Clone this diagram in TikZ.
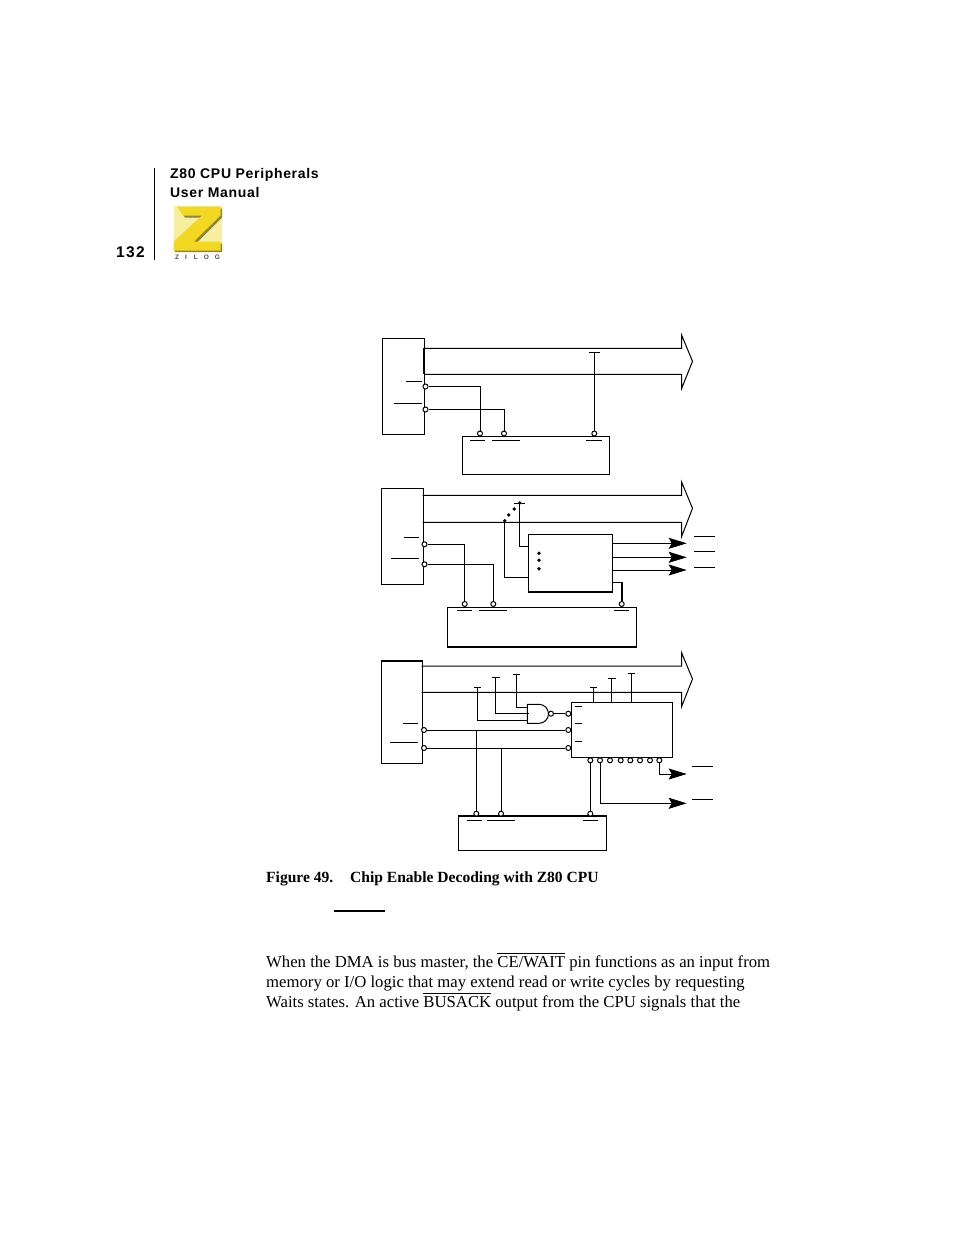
\documentclass[tikz,border=0pt]{standalone}
\usepackage{fontspec}
\setmainfont{Liberation Serif}
\newfontfamily\headfont[LetterSpace=4.8]{Liberation Sans}
\newfontfamily\pagefont[LetterSpace=9]{Liberation Sans}
\usepackage{tikz}
\usetikzlibrary{positioning}
\usetikzlibrary{arrows.meta}
\newcommand{\overbar}[1]{$\overline{\hbox{\rule{0pt}{12.4pt}#1}}$}
\newcommand{\zbus}[3]{\draw[wire] (#1,#2) -- (681.5,#2) -- (681.5,#2-13.5) -- (692.5,#2+13) -- (681.5,#3+14.5) -- (681.5,#3) -- (#1,#3);}
\tikzset{
	wire/.style={line width=1pt, line join=miter},
	chip/.style={draw, line width=1pt, inner sep=0pt, anchor=north west},
	pin/.style={circle, draw, fill=white, line width=1pt, inner sep=0pt, minimum size=5pt},
	signalbar/.style={line width=0.8pt},
	fatwire/.style={line width=1.9pt},
	outarrow/.style={wire, -{Stealth[length=18pt,width=11pt,inset=3pt]}},
	headtext/.style={inner sep=0pt, anchor=base west, font=\headfont\bfseries\fontsize{14}{16}\selectfont},
	bodytext/.style={inner sep=0pt, anchor=base west, font=\fontsize{16.7}{20}\selectfont},
	captiontext/.style={inner sep=0pt, anchor=base west, font=\fontsize{15.55}{18}\selectfont\bfseries}
}
\definecolor{zpale}{HTML}{F7EFA0}
\definecolor{zgold}{HTML}{F2D820}
\definecolor{zshade}{HTML}{8C8440}

\begin{document}
\begin{tikzpicture}[x=1pt, yscale=-1, y=1pt]
	\useasboundingbox (0,0) rectangle (954,1235);

	% page header
	\draw[line width=1pt] (154.5,168) -- (154.5,260);
	\node[headtext] (title) at (170,178) {Z80 CPU Peripherals};
	\node[headtext] (manual) at (170,197) {User Manual};
	\node[inner sep=0pt, anchor=base west, font=\pagefont\bfseries\fontsize{15.5}{18}\selectfont] (pageno) at (116,257) {132};
	\fill[zpale] (173.5,206) rectangle (221.5,251.5);
	\fill[zshade] (179,208.5) -- (222,208.5) -- (222,217.5) -- (196,243.5) -- (222,243.5) -- (222,252) -- (175,252) -- (175,243.5) -- (204,217.5) -- (185,217.5) -- cycle;
	\fill[zgold] (177,206.5) -- (220.5,206.5) -- (220.5,215.5) -- (194,241.5) -- (220.5,241.5) -- (220.5,250.5) -- (173.5,250.5) -- (173.5,241.5) -- (202,215.5) -- (183,215.5) -- cycle;
	\node[inner sep=0pt, text=black!70, font=\fontspec{Liberation Sans}\bfseries\fontsize{6.5}{7}\selectfont] (zilog) at (197.5,257) {Z\hspace{6pt}I\hspace{7pt}L\hspace{6pt}O\hspace{6pt}G};

	% first circuit
	\node[chip, minimum width=42pt, minimum height=96pt] (cpuA) at (382.3,338.3) {};
	\node[chip, minimum width=147pt, minimum height=38pt] (memA) at (462.3,436.3) {};
	\zbus{424}{348.3}{374.3}
	\draw[fatwire] (424,348.3) -- (424,374.3);
	\node[pin] (cpuAa) at (425.5,386.5) {};
	\node[pin] (cpuAb) at (425.5,409.5) {};
	\node[pin] (memAa) at (480,433.5) {};
	\node[pin] (memAb) at (504,433.5) {};
	\node[pin] (memAc) at (594.3,433.5) {};
	\coordinate (teeA) at (594.3,352.7);
	\draw[wire] (cpuAa) -| (memAa);
	\draw[wire] (cpuAb) -| (memAb);
	\draw[wire] (teeA) -- (memAc);
	\draw[signalbar] (589.3,352.7) -- (600,352.7);
	\draw[signalbar] (406,381.3) -- (422,381.3);
	\draw[signalbar] (394,403) -- (422,403);
	\draw[signalbar] (470,440) -- (485,440);
	\draw[signalbar] (492,440) -- (520,440);
	\draw[signalbar] (586,440) -- (602,440);

	% second circuit
	\node[chip, minimum width=41.4pt, minimum height=96pt] (cpuB) at (381.3,488.3) {};
	\node[chip, minimum width=84pt, minimum height=57pt] (decB) at (528.3,534.3) {};
	\node[chip, minimum width=188.8pt, minimum height=38.4pt] (memB) at (447.3,607.3) {};
	\draw[fatwire] (decB.south west) -- (decB.south east);
	\draw[fatwire] (memB.south west) -- (memB.south east);
	\zbus{422.7}{495.3}{522.3}
	\node[pin] (cpuBa) at (424.5,544.3) {};
	\node[pin] (cpuBb) at (424.5,564.3) {};
	\coordinate (decBc) at (612.3,582);
	\coordinate (bendB) at (621.7,582);
	\draw[wire] (decBc) -- (bendB);
	\node[pin] (memBa) at (464.7,604) {};
	\node[pin] (memBb) at (493.3,604) {};
	\node[pin] (memBc) at (621.7,604) {};
	\draw[fatwire] (bendB) -- (memBc);
	\draw[wire] (cpuBa) -| (memBa);
	\draw[wire] (cpuBb) -| (memBb);
	\coordinate (decBa) at (528.3,546.7);
	\coordinate (decBb) at (528.3,577.3);
	\coordinate (teeBa) at (519.7,503);
	\coordinate (teeBb) at (504.7,520.7);
	\draw[wire] (decBa) -| (teeBa);
	\draw[wire] (decBb) -| (teeBb);
	\draw[signalbar] (514,503) -- (525,503);
	\fill (teeBa) circle (1.9pt);
	\fill (teeBb) circle (1.9pt);
	\fill (508.7,515) circle (1.9pt);
	\fill (514.3,509) circle (1.9pt);
	\fill (539,553.3) circle (1.9pt);
	\fill (539,560.3) circle (1.9pt);
	\fill (539,568.7) circle (1.9pt);
	\foreach \outy in {543.3,557.3,570}
	{
		\draw[outarrow] (612.3,\outy) -- (686.7,\outy);
	}
	\foreach \bary in {536.7,551,567}
	{
		\draw[signalbar] (694,\bary) -- (715,\bary);
	}
	\draw[signalbar] (404,537.3) -- (418.7,537.3);
	\draw[signalbar] (391,558.3) -- (419,558.3);
	\draw[signalbar] (457,610.7) -- (472,610.7);
	\draw[signalbar] (479,610.7) -- (507,610.7);
	\draw[signalbar] (614.3,610.7) -- (629,610.7);

	% third circuit
	\node[chip, minimum width=40.4pt, minimum height=102.6pt] (cpuC) at (381.3,660.7) {};
	\node[chip, minimum width=100.9pt, minimum height=55pt] (decC) at (571.3,702.3) {};
	\node[chip, minimum width=148pt, minimum height=34pt] (memC) at (458.3,816.3) {};
	\draw[fatwire] (cpuC.north west) -- (cpuC.north east);
	\draw[fatwire] (memC.north west) -- (memC.north east);
	\zbus{421.7}{666}{692.3}
	\node[pin] (cpuCa) at (424,730) {};
	\node[pin] (cpuCb) at (424,748) {};
	\node[pin] (decCa) at (568.3,713.7) {};
	\node[pin] (decCb) at (568.3,730) {};
	\node[pin] (decCc) at (568.3,748) {};
	\node[pin] (memCa) at (476.3,813.7) {};
	\node[pin] (memCb) at (501,813.7) {};
	\node[pin] (memCc) at (590.3,813.7) {};
	\foreach \pinx [count=\pinnum] in {590.3,600,610,620.7,630.3,640,650,659.3}
	{
		\node[pin] (decCo\pinnum) at (\pinx,760.3) {};
	}
	\draw[wire] (cpuCa) -- (decCb);
	\draw[wire] (cpuCb) -- (decCc);
	\coordinate (busCa) at (476.3,730);
	\coordinate (busCb) at (501,748);
	\draw[wire] (busCa) -- (memCa);
	\draw[wire] (busCb) -- (memCb);
	\draw[wire] (decCo1) -- (memCc);
	\coordinate (outCa) at (686.7,774);
	\coordinate (outCb) at (686.7,803.3);
	\draw[outarrow] (decCo8) |- (outCa);
	\draw[outarrow] (decCo2) |- (outCb);
	% nand gate
	\draw[wire] (527.3,704.3) -- (539,704.3) arc (-90:90:9.5) -- (527.3,723.3) -- cycle;
	\node[pin] (nandC) at (551,713.7) {};
	\draw[wire] (nandC) -- (decCa);
	\coordinate (teeCa) at (516.7,674.3);
	\coordinate (teeCb) at (495.3,677.3);
	\coordinate (teeCc) at (477.3,687.3);
	\draw[wire] (teeCa) |- (527.3,707.3);
	\draw[wire] (teeCb) |- (528.7,713.3);
	\draw[wire] (teeCc) |- (527.3,720.3);
	\draw[signalbar] (513,674.3) -- (520,674.3);
	\draw[signalbar] (492,677.3) -- (499.7,677.3);
	\draw[signalbar] (474.3,687.3) -- (480.7,687.3);
	\coordinate (teeCd) at (593.7,687.3);
	\coordinate (teeCe) at (611.7,678.7);
	\coordinate (teeCf) at (631.3,673.7);
	\draw[wire] (teeCd) -- (593.7,702.3);
	\draw[wire] (teeCe) -- (611.7,702.3);
	\draw[wire] (teeCf) -- (631.3,702.3);
	\draw[signalbar] (590.3,687.3) -- (597,687.3);
	\draw[signalbar] (608,678.7) -- (615.5,678.7);
	\draw[signalbar] (628,673.7) -- (635,673.7);
	\draw[signalbar] (403.3,723) -- (418.3,723);
	\draw[signalbar] (390,742.3) -- (418.3,742.3);
	\draw[signalbar] (575,706) -- (582,706);
	\draw[signalbar] (575,723) -- (582,723);
	\draw[signalbar] (575,741) -- (582,741);
	\draw[signalbar] (692,766.7) -- (712.7,766.7);
	\draw[signalbar] (692,799.3) -- (712.7,799.3);
	\draw[signalbar] (466.7,820) -- (482,820);
	\draw[signalbar] (487.3,820) -- (515,820);
	\draw[signalbar] (583,820) -- (598,820);

	% caption and text
	\node[captiontext] (caption) at (266,882) {Figure 49.};
	\node[captiontext] (captext) at (350,882) {Chip Enable Decoding with Z80 CPU};
	\draw[line width=1.5pt] (334,911) -- (385,911);
	\node[bodytext] (lineone) at (266,967) {When the DMA is bus master, the \overbar{CE/WAIT} pin functions as an input from};
	\node[bodytext] (linetwo) at (266,987) {memory or I/O logic that may extend read or write cycles by requesting};
	\node[bodytext] (linethree) at (266,1007) {Waits states. An active \overbar{BUSACK} output from the CPU signals that the};
\end{tikzpicture}
\end{document}
